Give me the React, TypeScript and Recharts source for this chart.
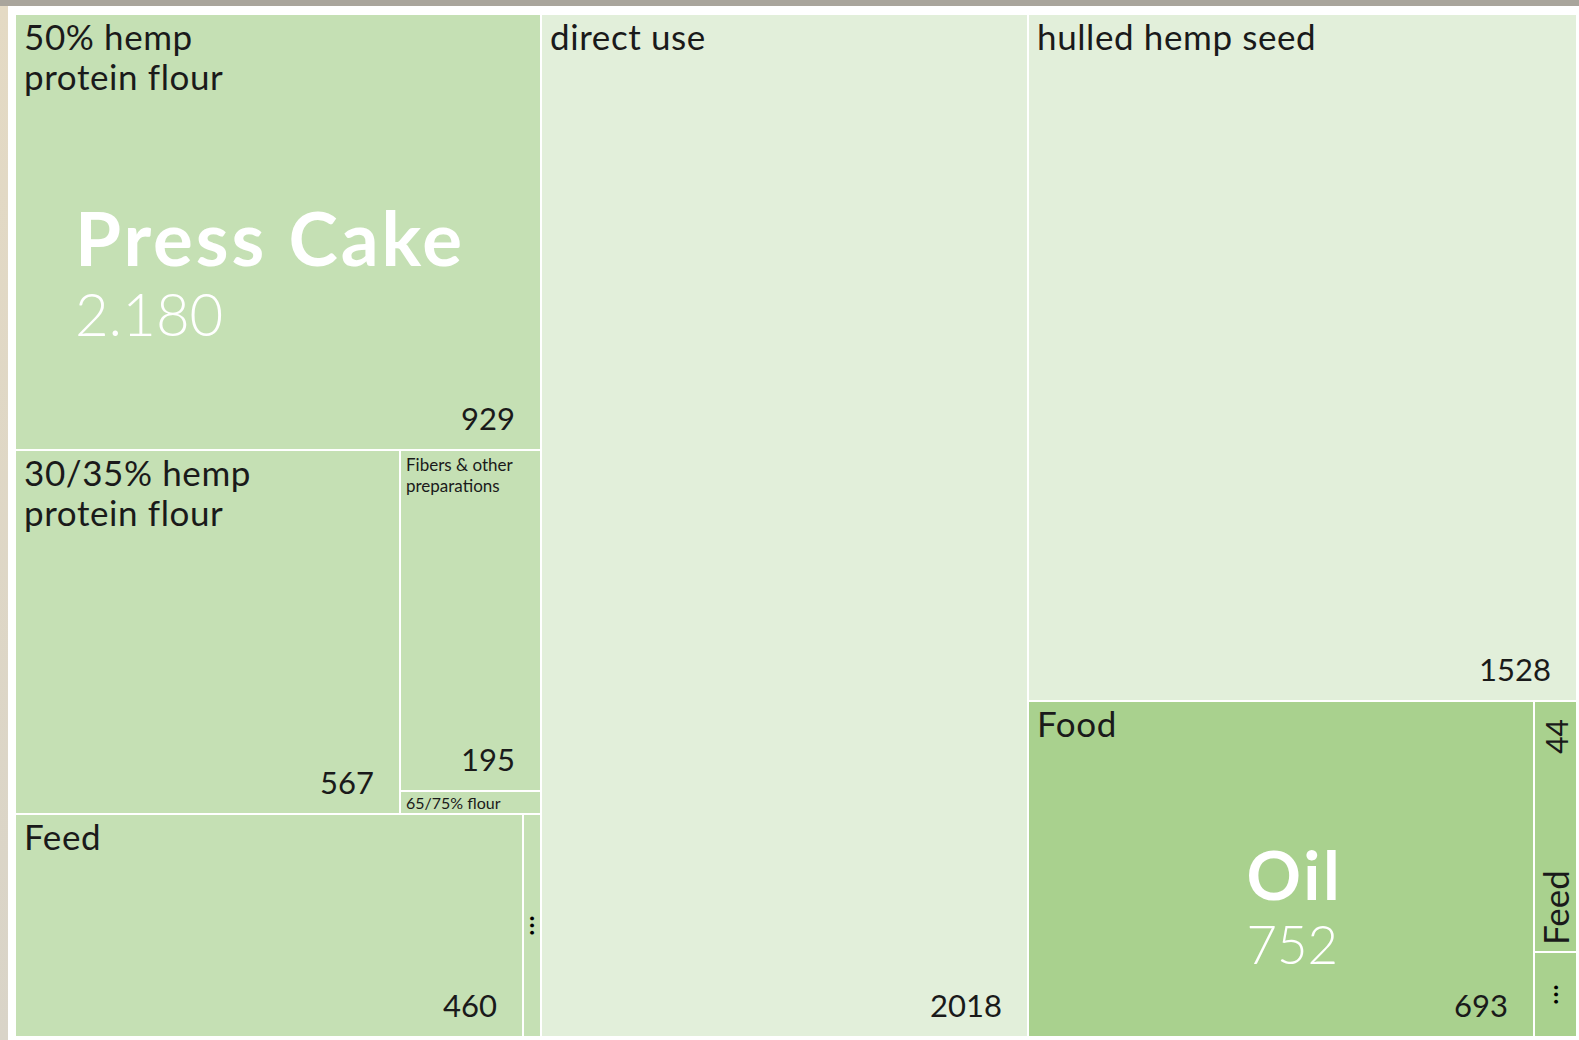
import React from 'react';
import { Treemap } from 'recharts';

// top level categories of the hemp seed flow
const categoryNames = ['Press Cake', 'direct use', 'hulled hemp seed', 'Oil'];

const pressCakeNames = [
  '50% hemp protein flour',
  '30/35% hemp protein flour',
  'Fibers & other preparations',
  '65/75% flour',
  'Feed',
  '...',
];
const pressCakeValues = [929, 567, 195, 13, 460, 16];

const directUseValue = 2018;
const hulledSeedValue = 1528;

const oilNames = ['Food', 'Feed', '...'];
const oilValues = [693, 44, 15];

const categoryColors = ['#c5e0b4', '#e2efda', '#e2efda', '#a9d18e'];

const FONT = 'Lato, "Open Sans", sans-serif';
const TEXT = '#1a1a1a';
const CHART_W = 1562;
const CHART_H = 1023;

const leaf = (name: string, size: number, cat: number) => ({ name, size, cat });
const pc = (i: number) => leaf(pressCakeNames[i], pressCakeValues[i], 0);
const oil = (i: number) => leaf(oilNames[i], oilValues[i], 3);

// Press Cake is grouped in rows so the squarify layout splits it like the original chart
const treeData = [
  {
    name: categoryNames[0],
    cat: 0,
    children: [
      pc(0),
      { name: '', cat: 0, children: [pc(1), { name: '', cat: 0, children: [pc(2), pc(3)] }] },
      { name: '', cat: 0, children: [pc(4), pc(5)] },
    ],
  },
  leaf(categoryNames[1], directUseValue, 1),
  leaf(categoryNames[2], hulledSeedValue, 2),
  { name: categoryNames[3], cat: 3, children: [oil(0), oil(1), oil(2)] },
];

let measureCtx: CanvasRenderingContext2D | null = null;
const measure = (text: string, font: string) => {
  if (!measureCtx) measureCtx = document.createElement('canvas').getContext('2d');
  if (!measureCtx) return text.length * 10;
  measureCtx.font = font;
  return measureCtx.measureText(text).width;
};

// big labels: long names are split in two balanced lines
const splitBig = (name: string) => {
  const words = name.split(' ');
  if (words.length < 4) return [name];
  const half = Math.ceil(words.length / 2);
  return [words.slice(0, half).join(' '), words.slice(half).join(' ')];
};

// small labels: greedy wrap by available width
const wrapByWidth = (name: string, maxW: number, fontSize: number) => {
  const words = name.split(' ');
  const lines: string[] = [];
  let cur = '';
  words.forEach((w) => {
    const next = cur ? `${cur} ${w}` : w;
    if (cur && measure(next, `${fontSize}px Lato`) > maxW) {
      lines.push(cur);
      cur = w;
    } else {
      cur = next;
    }
  });
  if (cur) lines.push(cur);
  return lines;
};

const renderCell = (props: any) => {
  const { x, y, width, height, depth, name, value, children, cat } = props;
  if (depth === 0 || (children && children.length)) return null;
  const fill = categoryColors[cat] ?? '#e2efda';
  const rect = <rect x={x} y={y} width={width} height={height} fill={fill} stroke="#fff" strokeWidth={2} />;

  if (name === '...') {
    return (
      <g>
        {rect}
        <text
          transform={`translate(${x + width / 2 + 2},${y + height / 2}) rotate(-90)`}
          textAnchor="middle"
          fontFamily={FONT}
          fontSize={30}
          fill="#000"
        >
          ...
        </text>
      </g>
    );
  }

  if (width < 60) {
    return (
      <g>
        {rect}
        <text transform={`translate(${x + width - 8},${y + height - 7}) rotate(-90)`} fontFamily={FONT} fontSize={35} fill={TEXT}>
          {name}
        </text>
        <text
          transform={`translate(${x + width - 9},${y + 18}) rotate(-90)`}
          textAnchor="end"
          fontFamily={FONT}
          fontSize={30}
          fill={TEXT}
        >
          {value}
        </text>
      </g>
    );
  }

  if (height < 40) {
    return (
      <g>
        {rect}
        <text x={x + 6} y={y + height / 2 + 6} fontFamily={FONT} fontSize={16} fill={TEXT}>
          {name}
        </text>
      </g>
    );
  }

  const small = width < 200;
  const labelSize = small ? 17 : 35;
  const lines = small ? wrapByWidth(name, width - 14, labelSize) : splitBig(name);
  const firstBase = small ? 21 : 36;
  const lineH = small ? 21 : 40;

  return (
    <g>
      {rect}
      {lines.map((line, i) => (
        <text
          key={i}
          x={x + (small ? 6 : 9)}
          y={y + firstBase + i * lineH}
          fontFamily={FONT}
          fontSize={labelSize}
          letterSpacing={small ? 0 : 0.6}
          fill={TEXT}
        >
          {line}
        </text>
      ))}
      <text x={x + width - 26} y={y + height - 20} textAnchor="end" fontFamily={FONT} fontSize={31} fill={TEXT}>
        {value}
      </text>
    </g>
  );
};

// parent names drawn on a second, identical treemap so they sit above the children
const renderParentLabel = (props: any) => {
  const { x, width, depth, name, value, children } = props;
  if (depth !== 1 || !children || !children.length) return null;
  const first = children[0];
  const fs = 44 + 0.07 * first.height;
  const vfs = fs * 0.78;
  const spacing = fs * 0.04;
  const valueText = Number(value).toLocaleString('de-DE');
  const w = Math.max(
    measure(name, `bold ${fs}px Lato`) + spacing * name.length,
    measure(valueText, `300 ${vfs}px Lato`),
  );
  const left = x + width / 2 - w / 2 - 8;
  const cy = first.y + first.height / 2;
  return (
    <g>
      <text x={left} y={cy + 0.46 * fs} fontFamily={FONT} fontSize={fs} fontWeight={700} letterSpacing={spacing} fill="#fff">
        {name}
      </text>
      <text x={left} y={cy + 1.4 * fs} fontFamily={FONT} fontSize={vfs} fontWeight={300} fill="#fff">
        {valueText}
      </text>
    </g>
  );
};

const layerStyle: React.CSSProperties = { position: 'absolute', left: 15, top: 14, width: CHART_W, height: CHART_H };

const App = () => {
  return (
    <div
      style={{
        position: 'fixed',
        left: 0,
        top: 0,
        width: 1579,
        height: 1040,
        overflow: 'hidden',
        background: 'linear-gradient(180deg, #a9a59c 0px, #a9a59c 6px, #e4dac4 6px, #d9d4c8 100%)',
        fontFamily: FONT,
      }}
    >
      <div style={{ position: 'absolute', left: 8, top: 6, right: 0, bottom: 0, background: '#fff' }} />
      <div style={layerStyle}>
        <Treemap
          width={CHART_W}
          height={CHART_H}
          data={treeData}
          dataKey="size"
          aspectRatio={0.5}
          isAnimationActive={false}
          content={renderCell}
        />
      </div>
      <div style={{ ...layerStyle, pointerEvents: 'none' }}>
        <Treemap
          width={CHART_W}
          height={CHART_H}
          data={treeData}
          dataKey="size"
          aspectRatio={0.5}
          isAnimationActive={false}
          content={renderParentLabel}
        />
      </div>
    </div>
  );
};

export default App;
